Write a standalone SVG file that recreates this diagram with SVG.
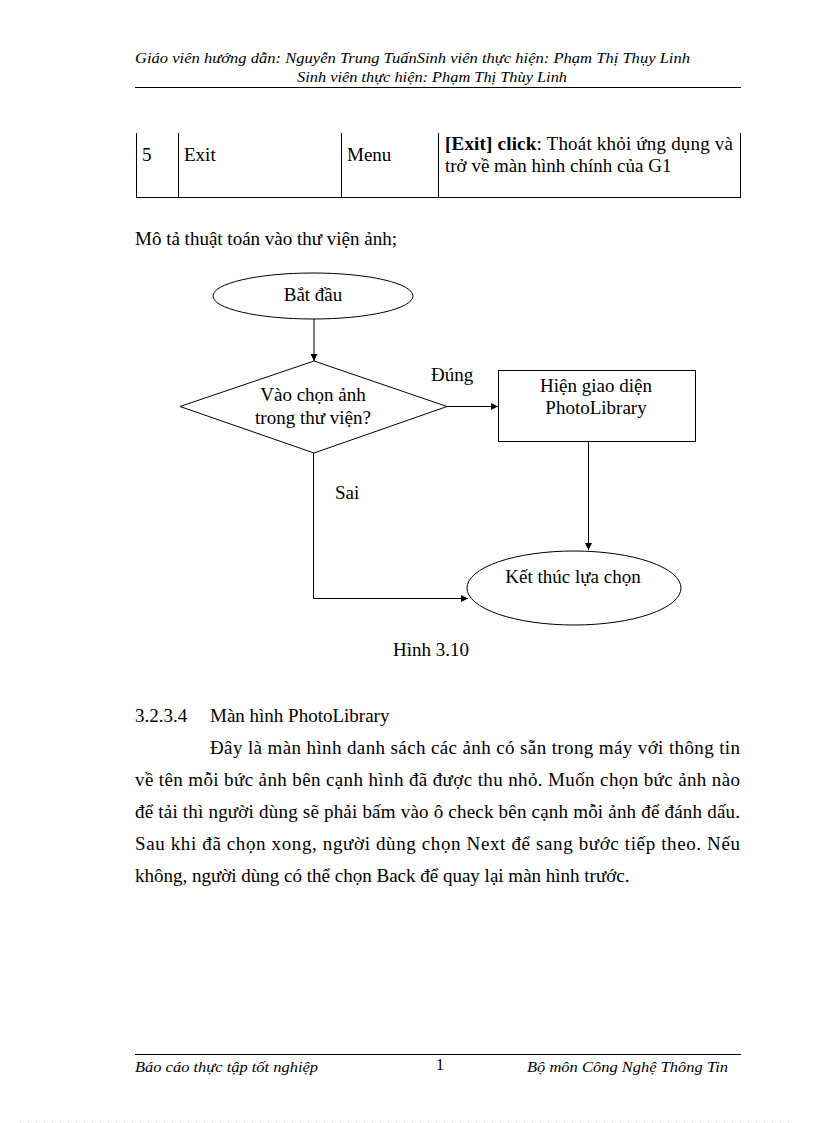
<svg xmlns="http://www.w3.org/2000/svg" width="816" height="1123" viewBox="0 0 816 1123">
<defs>
<style>
text{font-family:"Liberation Serif","Times New Roman",serif;fill:#000;}
.t{font-size:19px;}
.hd{font-size:15px;font-style:italic;}
.ln{stroke:#000;stroke-width:1;fill:none;}
.shape{stroke:#000;stroke-width:1;fill:#fff;}
.mid{text-anchor:middle;}
</style>
<marker id="ah" viewBox="0 0 10 10" refX="10" refY="5" markerWidth="9" markerHeight="7" markerUnits="userSpaceOnUse" orient="auto">
<path d="M0,0 L10,5 L0,10 z" fill="#000"/>
</marker>
</defs>
<rect width="816" height="1123" fill="#fff"/>

<g id="header">
<text class="hd" x="135" y="63" textLength="555" lengthAdjust="spacingAndGlyphs">Giáo viên hướng dẫn: Nguyễn Trung TuấnSinh viên thực hiện: Phạm Thị Thụy Linh</text>
<text class="hd" x="297" y="82" textLength="270" lengthAdjust="spacingAndGlyphs">Sinh viên thực hiện: Phạm Thị Thùy Linh</text>
<line class="ln" x1="135" y1="87.5" x2="741" y2="87.5"/>
</g>

<g id="table">
<line class="ln" x1="136.5" y1="133" x2="136.5" y2="197"/>
<line class="ln" x1="178.5" y1="133" x2="178.5" y2="197"/>
<line class="ln" x1="341.5" y1="133" x2="341.5" y2="197"/>
<line class="ln" x1="438.5" y1="133" x2="438.5" y2="197"/>
<line class="ln" x1="740.5" y1="133" x2="740.5" y2="197"/>
<line class="ln" x1="136" y1="197.5" x2="741" y2="197.5"/>
<text class="t" x="142" y="161">5</text>
<text class="t" x="184" y="161">Exit</text>
<text class="t" x="347" y="161">Menu</text>
<text class="t" x="445" y="150" textLength="288" lengthAdjust="spacing"><tspan font-weight="bold">[Exit] click</tspan>: Thoát khỏi ứng dụng và</text>
<text class="t" x="445" y="172">trở về màn hình chính của G1</text>
</g>

<text class="t" x="135" y="245">Mô tả thuật toán vào thư viện ảnh;</text>

<g id="connectors">
<line class="ln" x1="314" y1="319" x2="314" y2="361" marker-end="url(#ah)"/>
<line class="ln" x1="447" y1="406.5" x2="498" y2="406.5" marker-end="url(#ah)"/>
<line class="ln" x1="588.5" y1="442" x2="588.5" y2="550" marker-end="url(#ah)"/>
<polyline class="ln" points="313.5,453 313.5,598.5 468,598.5" marker-end="url(#ah)"/>
<text class="t" x="431" y="381">Đúng</text>
<text class="t" x="335" y="499">Sai</text>
</g>

<g id="start">
<ellipse class="shape" cx="313" cy="296" rx="100" ry="23"/>
<text class="t mid" x="313" y="301">Bắt đầu</text>
</g>

<g id="decision">
<polygon class="shape" points="314,361 447,406.5 314,453 180,406.5"/>
<text class="t mid" x="313" y="401">Vào chọn ảnh</text>
<text class="t mid" x="313" y="424">trong thư viện?</text>
</g>

<g id="show">
<rect class="shape" x="498.5" y="370.5" width="197" height="71"/>
<text class="t mid" x="596" y="392">Hiện giao diện</text>
<text class="t mid" x="596" y="414">PhotoLibrary</text>
</g>

<g id="end">
<ellipse class="shape" cx="574" cy="588" rx="107" ry="37"/>
<text class="t mid" x="573" y="583">Kết thúc lựa chọn</text>
</g>

<text class="t mid" x="431" y="656">Hình 3.10</text>

<g id="section">
<text class="t" x="135" y="722">3.2.3.4</text>
<text class="t" x="210" y="722">Màn hình PhotoLibrary</text>
<text class="t" x="210" y="754" textLength="530" lengthAdjust="spacing">Đây là màn hình danh sách các ảnh có sẵn trong máy với thông tin</text>
<text class="t" x="135" y="786" textLength="605" lengthAdjust="spacing">về tên mỗi bức ảnh bên cạnh hình đã được thu nhỏ. Muốn chọn bức ảnh nào</text>
<text class="t" x="135" y="818" textLength="605" lengthAdjust="spacing">để tải thì người dùng sẽ phải bấm vào ô check bên cạnh mỗi ảnh để đánh dấu.</text>
<text class="t" x="135" y="850" textLength="605" lengthAdjust="spacing">Sau khi đã chọn xong, người dùng chọn Next để sang bước tiếp theo. Nếu</text>
<text class="t" x="135" y="882">không, người dùng có thể chọn Back để quay lại màn hình trước.</text>
</g>

<g id="footer">
<line class="ln" x1="135" y1="1054.5" x2="741" y2="1054.5"/>
<text class="hd" x="135" y="1072" textLength="183" lengthAdjust="spacingAndGlyphs">Báo cáo thực tập tốt nghiệp</text>
<text x="436" y="1070" font-size="16">1</text>
<text class="hd" x="527" y="1072" textLength="201" lengthAdjust="spacingAndGlyphs">Bộ môn Công Nghệ Thông Tin</text>
</g>
<line x1="20" y1="1121.5" x2="796" y2="1121.5" stroke="#bbb" stroke-width="1" stroke-dasharray="1,7"/>
</svg>
